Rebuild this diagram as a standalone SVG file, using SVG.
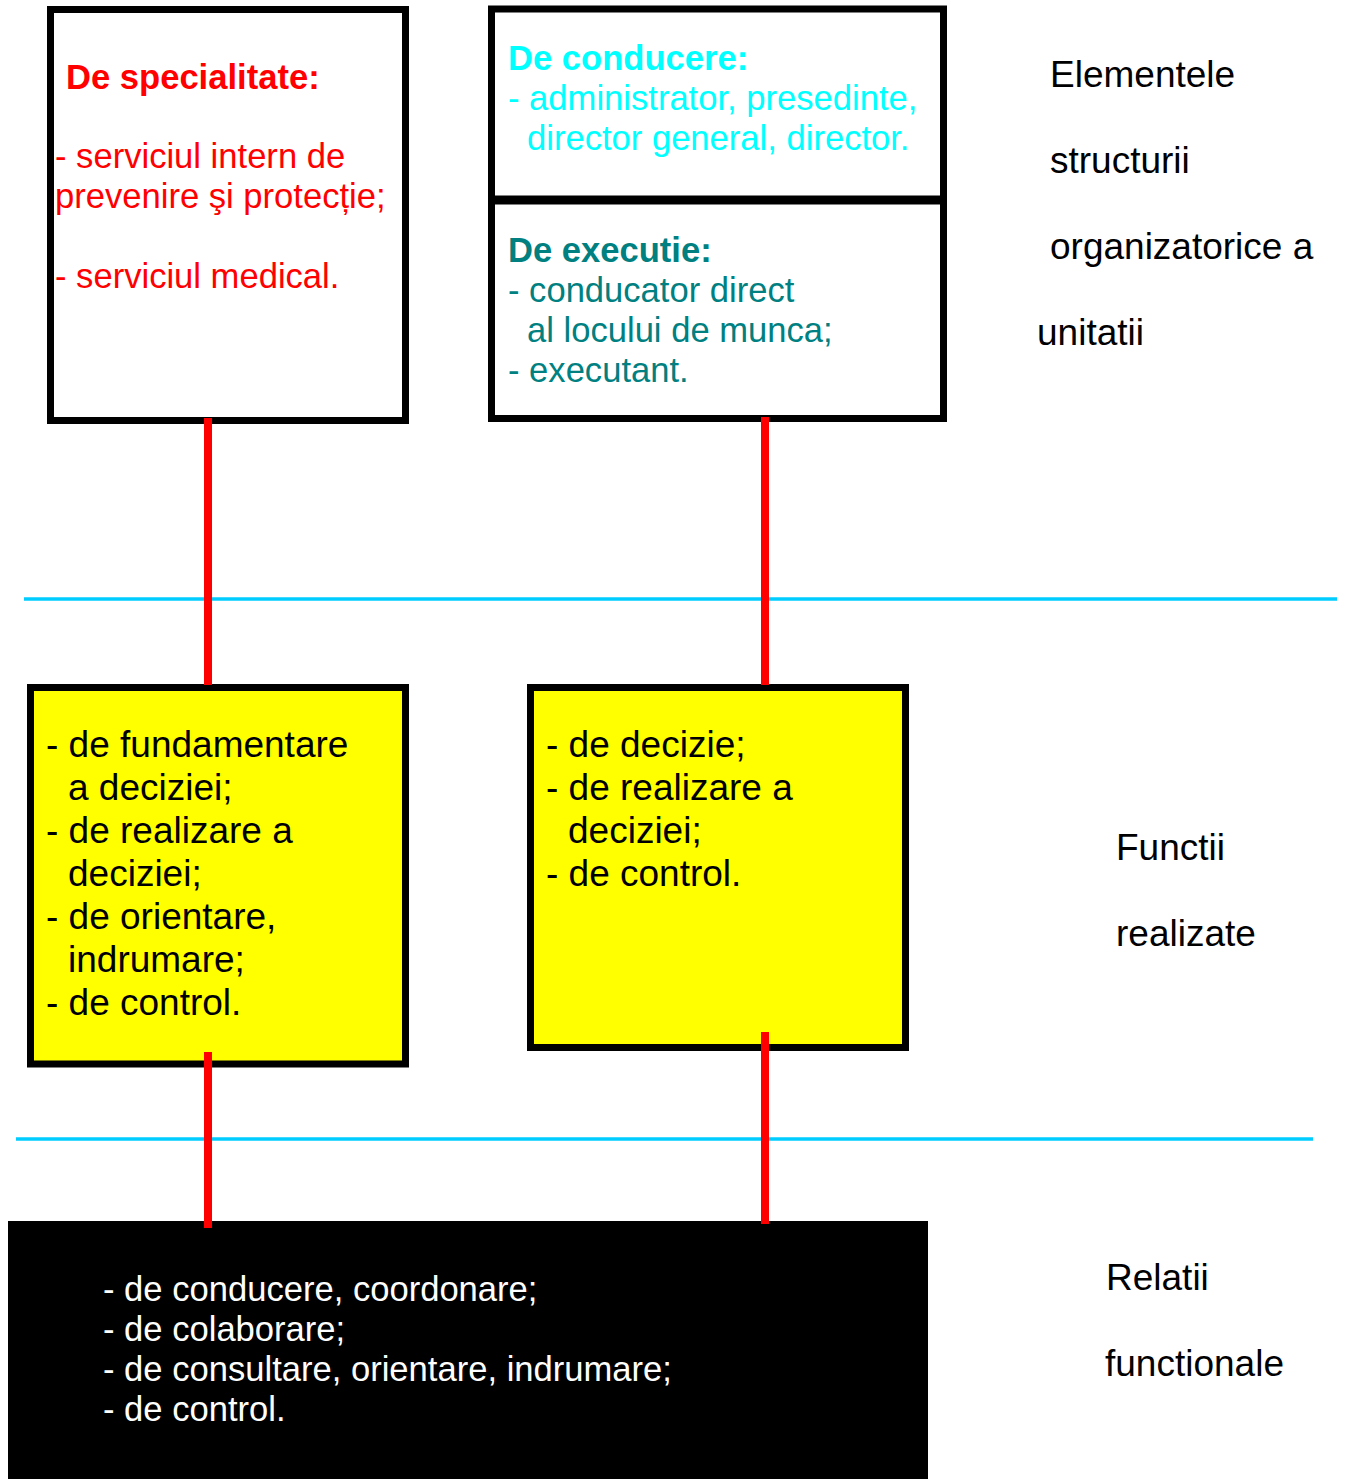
<svg xmlns="http://www.w3.org/2000/svg" width="1346" height="1479" viewBox="0 0 1346 1479">
<style>
text{font-family:"Liberation Sans",Arial,sans-serif}
.box{fill:#ffffff;stroke:#000000;stroke-width:7}
.ybox{fill:#ffff00;stroke:#000000;stroke-width:7}
.conn{stroke:#ff0000;stroke-width:8;fill:none}
.sep{stroke:#00ccff;stroke-width:3.5;fill:none}
.red{fill:#ff0000;font-size:34.6px}
.cyan{fill:#00ffff;font-size:34.6px}
.teal{fill:#008080;font-size:34.6px}
.blk{fill:#000000;font-size:37px}
.wht{fill:#ffffff;font-size:34.6px}
.lbl{fill:#000000;font-size:37px}
.b{font-weight:bold}
</style>
<rect width="1346" height="1479" fill="#ffffff"/>
<g id="separators">
<line class="sep" x1="24" y1="599" x2="1337" y2="599"/>
<line class="sep" x1="16" y1="1139" x2="1313" y2="1139"/>
</g>
<g id="node-specialitate">
<rect class="box" x="50.5" y="9.5" width="355" height="411"/>
<text class="red b" x="66" y="89">De specialitate:</text>
<text class="red" x="55" y="168">- serviciul intern de</text>
<text class="red" x="55" y="208">prevenire şi protecție;</text>
<text class="red" x="55" y="288">- serviciul medical.</text>
</g>
<g id="node-conducere-executie">
<rect class="box" x="491.5" y="9" width="452" height="409.5"/>
<line x1="491.5" y1="200" x2="943.5" y2="200" stroke="#000000" stroke-width="9"/>
<text class="cyan b" x="508" y="70">De conducere:</text>
<text class="cyan" x="508" y="110">- administrator, presedinte,</text>
<text class="cyan" x="527" y="150">director general, director.</text>
<text class="teal b" x="508" y="262">De executie:</text>
<text class="teal" x="508" y="302">- conducator direct</text>
<text class="teal" x="527" y="342">al locului de munca;</text>
<text class="teal" x="508" y="382">- executant.</text>
</g>
<g id="node-functii-specialitate">
<rect class="ybox" x="30.5" y="687.5" width="375" height="376.5"/>
<text class="blk" x="46" y="757">- de fundamentare</text>
<text class="blk" x="68" y="800">a deciziei;</text>
<text class="blk" x="46" y="843">- de realizare a</text>
<text class="blk" x="68" y="886">deciziei;</text>
<text class="blk" x="46" y="929">- de orientare,</text>
<text class="blk" x="68" y="972">indrumare;</text>
<text class="blk" x="46" y="1015">- de control.</text>
</g>
<g id="node-functii-conducere">
<rect class="ybox" x="530.5" y="687.5" width="375" height="360"/>
<text class="blk" x="546" y="757">- de decizie;</text>
<text class="blk" x="546" y="800">- de realizare a</text>
<text class="blk" x="568" y="843">deciziei;</text>
<text class="blk" x="546" y="886">- de control.</text>
</g>
<g id="node-relatii">
<rect x="8" y="1221" width="920" height="258" fill="#000000"/>
<text class="wht" x="103" y="1301">- de conducere, coordonare;</text>
<text class="wht" x="103" y="1341">- de colaborare;</text>
<text class="wht" x="103" y="1381">- de consultare, orientare, indrumare;</text>
<text class="wht" x="103" y="1421">- de control.</text>
</g>
<g id="connectors">
<line class="conn" x1="208" y1="418" x2="208" y2="685"/>
<line class="conn" x1="765" y1="417" x2="765" y2="685"/>
<line class="conn" x1="208" y1="1052" x2="208" y2="1228"/>
<line class="conn" x1="765" y1="1032" x2="765" y2="1224"/>
</g>
<g id="label-elemente">
<text class="lbl" x="1050" y="87">Elementele</text>
<text class="lbl" x="1050" y="173">structurii</text>
<text class="lbl" x="1050" y="259">organizatorice a</text>
<text class="lbl" x="1037" y="345">unitatii</text>
</g>
<g id="label-functii">
<text class="lbl" x="1116" y="860">Functii</text>
<text class="lbl" x="1116" y="946">realizate</text>
</g>
<g id="label-relatii">
<text class="lbl" x="1106" y="1290">Relatii</text>
<text class="lbl" x="1105" y="1376">functionale</text>
</g>
</svg>
